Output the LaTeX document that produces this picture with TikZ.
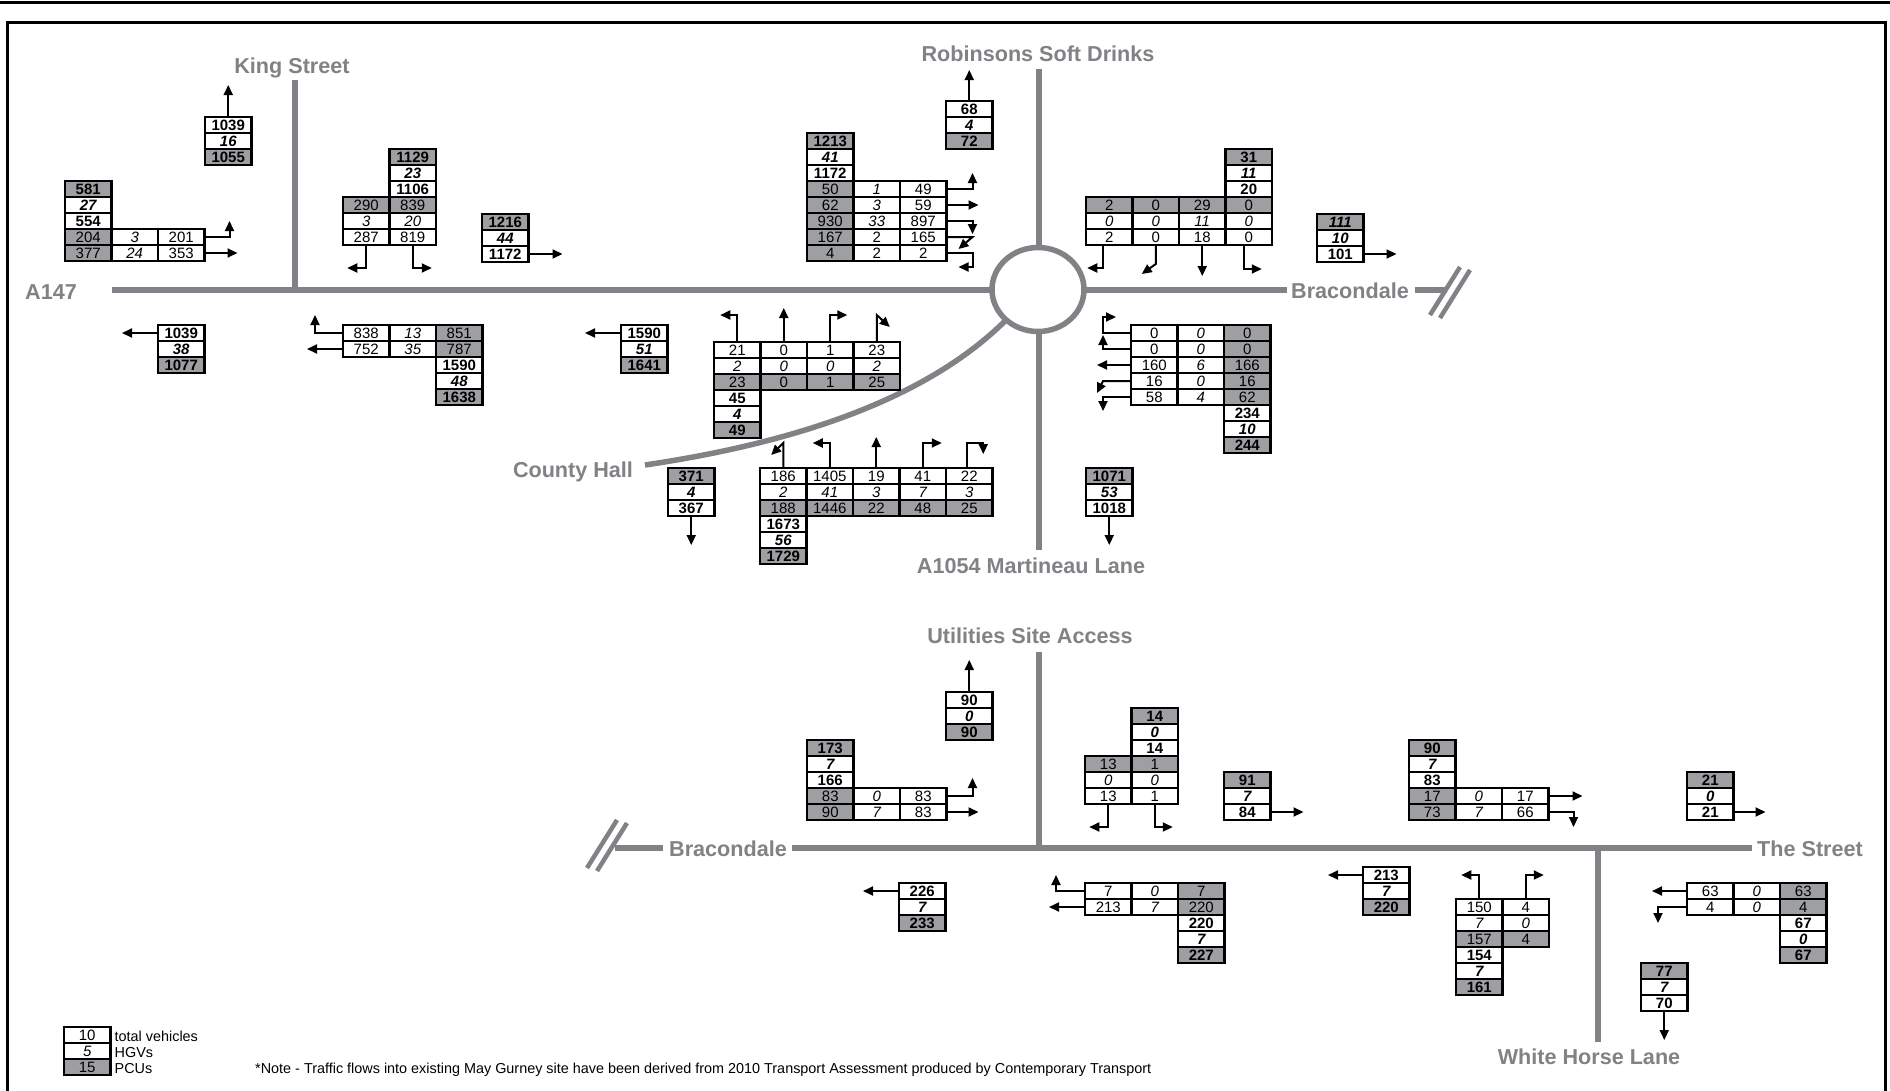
\documentclass[tikz,border=0pt]{standalone}
\usepackage{fontspec}
\setmainfont{Liberation Sans}
\usetikzlibrary{arrows.meta}
\definecolor{roadgray}{RGB}{128,130,133}
\definecolor{cellgray}{RGB}{158,159,162}
\newcommand\cellfont{\fontsize{15}{15}\selectfont}
\def\mycw{46.5}
\def\myrh{16}
\newcommand\tcell[4]{\node[cell,#3] (\curtab-#1-#2) at ({(#1+0.5)*\mycw},{(#2+0.5)*\myrh}) {#4};}
\tikzset{
  cell/.style={draw=black, line width=2.2pt, minimum width=46.5pt, minimum height=16pt,
    inner sep=0pt, outer sep=0pt, font=\cellfont, text height=10.7pt, text depth=0pt},
  cn/.style={},
  ci/.style={font=\cellfont\itshape},
  cg/.style={fill=cellgray},
  cb/.style={font=\cellfont\bfseries},
  cbi/.style={font=\cellfont\bfseries\itshape},
  cbg/.style={fill=cellgray, font=\cellfont\bfseries},
  cbig/.style={fill=cellgray, font=\cellfont\bfseries\itshape},
  arr/.style={draw=black, line width=2pt, -{Triangle[length=10pt,width=9pt]}},
  road/.style={draw=roadgray, line width=5.5pt},
  slash/.style={draw=roadgray, line width=4.5pt},
  rlab/.style={text=roadgray, font=\fontsize{21.6}{21.6}\selectfont\bfseries, inner sep=0pt,
    text height=15.5pt, text depth=0pt},
  smalltext/.style={font=\fontsize{14.4}{14.4}\selectfont, inner sep=0pt}
}
\begin{document}
\begin{tikzpicture}[x=1pt,y=-1pt]
\useasboundingbox (0,0) rectangle (1890,1090);
\fill[white] (0,0) rectangle (1890,1090);
% frame
\draw[line width=3pt] (0,2) -- (1890,2);
\draw[line width=3pt] (7.5,1093) -- (7.5,22) -- (1885.5,22) -- (1885.5,1093);

% ---------- upper junctions: roads ----------
\draw[road] (112,290) -- (992,290);
\draw[road] (295,80) -- (295,290);
\draw[road] (1038,289.5) ellipse [x radius=46, y radius=42];
\draw[road] (1039,69) -- (1039,247.5);
\draw[road] (1039,331.5) -- (1039,550);
\draw[road] (1084,290) -- (1287,290);
\draw[road] (1415,290) -- (1447,290);
\draw[slash] (1430,315) -- (1460,267);
\draw[slash] (1440,318) -- (1470,270);
\draw[road] (645,465) .. controls (780,445) and (920,405) .. (1005,321);

\node[rlab] (lking) at (292,66) {King Street};
\node[rlab] (la147) at (51,292) {A147};
\node[rlab] (lrob) at (1038,54) {Robinsons Soft Drinks};
\node[rlab] (lbrac1) at (1350,291) {Bracondale};
\node[rlab] (lcounty) at (573,470) {County Hall};
\node[rlab] (lmart) at (1031,566) {A1054 Martineau Lane};

% ---------- lower junctions: roads ----------
\draw[road] (615,848) -- (663,848);
\draw[road] (792,848) -- (1752,848);
\draw[slash] (587,868) -- (617,820);
\draw[slash] (597,871) -- (627,823);
\draw[road] (1039,652) -- (1039,848);
\draw[road] (1598,848) -- (1598,1042);

\node[rlab] (lutil) at (1030,636) {Utilities Site Access};
\node[rlab] (lbrac2) at (728,849) {Bracondale};
\node[rlab] (lstreet) at (1810,849) {The Street};
\node[rlab] (lwhite) at (1589,1057) {White Horse Lane};

% ---------- tables ----------
\begin{scope}[shift={(205,117)}]\def\curtab{A}
\tcell00{cb}{1039}\tcell01{cbi}{16}\tcell02{cbg}{1055}
\end{scope}
\draw[arr] (A-0-0.north) -- ++(0,-32);

\begin{scope}[shift={(65,181)}]\def\curtab{B}
\tcell00{cbg}{581}\tcell01{cbi}{27}\tcell02{cb}{554}
\tcell03{cg}{204}\tcell13{ci}{3}\tcell23{cn}{201}
\tcell04{cg}{377}\tcell14{ci}{24}\tcell24{cn}{353}
\end{scope}
\draw[arr] (B-2-3.east) -- ++(25,0) -- ++(0,-16);
\draw[arr] (B-2-4.east) -- ++(33,0);

\begin{scope}[shift={(343,149)}]\def\curtab{C}
\tcell10{cbg}{1129}\tcell11{cbi}{23}\tcell12{cb}{1106}
\tcell03{cg}{290}\tcell13{cg}{839}
\tcell04{ci}{3}\tcell14{ci}{20}
\tcell05{cn}{287}\tcell15{cn}{819}
\end{scope}
\draw[arr] (C-0-5.south) -- ++(0,23) -- ++(-19,0);
\draw[arr] (C-1-5.south) -- ++(0,23) -- ++(19,0);

\begin{scope}[shift={(482,214)}]\def\curtab{D}
\tcell00{cbg}{1216}\tcell01{cbi}{44}\tcell02{cb}{1172}
\end{scope}
\draw[arr] (D-0-2.east) -- ++(34,0);

\begin{scope}[shift={(807,133)}]\def\curtab{E}
\tcell00{cbg}{1213}\tcell01{cbi}{41}\tcell02{cb}{1172}
\tcell03{cg}{50}\tcell13{ci}{1}\tcell23{cn}{49}
\tcell04{cg}{62}\tcell14{ci}{3}\tcell24{cn}{59}
\tcell05{cg}{930}\tcell15{ci}{33}\tcell25{cn}{897}
\tcell06{cg}{167}\tcell16{cn}{2}\tcell26{cn}{165}
\tcell07{cg}{4}\tcell17{cn}{2}\tcell27{cn}{2}
\end{scope}
\draw[arr] (E-2-3.east) -- ++(26,0) -- ++(0,-16);
\draw[arr] (E-2-4.east) -- ++(32,0);
\draw[arr] (E-2-5.east) -- ++(26,0) -- ++(0,13);
\draw[arr] (E-2-6.east) -- ++(26,0) -- ++(-14,12);
\draw[arr] (E-2-7.east) -- ++(26,0) -- ++(0,14) -- ++(-14,0);

\begin{scope}[shift={(946,101)}]\def\curtab{F}
\tcell00{cb}{68}\tcell01{cbi}{4}\tcell02{cbg}{72}
\end{scope}
\draw[arr] (F-0-0.north) -- ++(0,-31);

\begin{scope}[shift={(1086,149)}]\def\curtab{G}
\tcell30{cbg}{31}\tcell31{cbi}{11}\tcell32{cb}{20}
\tcell03{cg}{2}\tcell13{cg}{0}\tcell23{cg}{29}\tcell33{cg}{0}
\tcell04{ci}{0}\tcell14{ci}{0}\tcell24{ci}{11}\tcell34{ci}{0}
\tcell05{cn}{2}\tcell15{cn}{0}\tcell25{cn}{18}\tcell35{cn}{0}
\end{scope}
\draw[arr] ([xshift=-6pt]G-0-5.south) -- ++(0,23) -- ++(-16,0);
\draw[arr] (G-1-5.south) -- ++(0,19) -- ++(-14,10);
\draw[arr] (G-2-5.south) -- ++(0,31);
\draw[arr] ([xshift=-5pt]G-3-5.south) -- ++(0,24) -- ++(18,0);

\begin{scope}[shift={(1317,214)}]\def\curtab{H}
\tcell00{cbig}{111}\tcell01{cbi}{10}\tcell02{cb}{101}
\end{scope}
\draw[arr] (H-0-2.east) -- ++(33,0);

\begin{scope}[shift={(158,325)}]\def\curtab{I}
\tcell00{cb}{1039}\tcell01{cbi}{38}\tcell02{cbg}{1077}
\end{scope}
\draw[arr] (I-0-0.west) -- ++(-36,0);

\begin{scope}[shift={(343,325)}]\def\curtab{J}
\tcell00{cn}{838}\tcell10{ci}{13}\tcell20{cg}{851}
\tcell01{cn}{752}\tcell11{ci}{35}\tcell21{cg}{787}
\tcell22{cb}{1590}\tcell23{cbi}{48}\tcell24{cbg}{1638}
\end{scope}
\draw[arr] (J-0-0.west) -- ++(-28,0) -- ++(0,-18);
\draw[arr] (J-0-1.west) -- ++(-36,0);

\begin{scope}[shift={(621,325)}]\def\curtab{K}
\tcell00{cb}{1590}\tcell01{cbi}{51}\tcell02{cbg}{1641}
\end{scope}
\draw[arr] (K-0-0.west) -- ++(-36,0);

\begin{scope}[shift={(714,342)}]\def\curtab{L}
\tcell00{cn}{21}\tcell10{cn}{0}\tcell20{cn}{1}\tcell30{cn}{23}
\tcell01{ci}{2}\tcell11{ci}{0}\tcell21{ci}{0}\tcell31{ci}{2}
\tcell02{cg}{23}\tcell12{cg}{0}\tcell22{cg}{1}\tcell32{cg}{25}
\tcell03{cb}{45}\tcell04{cbi}{4}\tcell05{cbg}{49}
\end{scope}
\draw[arr] (L-0-0.north) -- ++(0,-27) -- ++(-17,0);
\draw[arr] (L-1-0.north) -- ++(0,-34);
\draw[arr] (L-2-0.north) -- ++(0,-27) -- ++(17,0);
\draw[arr] (L-3-0.north) -- ++(0,-27) -- ++(13,12);

\begin{scope}[shift={(668,468)}]\def\curtab{M}
\tcell00{cbg}{371}\tcell01{cbi}{4}\tcell02{cb}{367}
\end{scope}
\draw[arr] (M-0-2.south) -- ++(0,29);

\begin{scope}[shift={(760,468)}]\def\curtab{N}
\tcell00{cn}{186}\tcell10{cn}{1405}\tcell20{cn}{19}\tcell30{cn}{41}\tcell40{cn}{22}
\tcell01{ci}{2}\tcell11{ci}{41}\tcell21{ci}{3}\tcell31{ci}{7}\tcell41{ci}{3}
\tcell02{cg}{188}\tcell12{cg}{1446}\tcell22{cg}{22}\tcell32{cg}{48}\tcell42{cg}{25}
\tcell03{cb}{1673}\tcell04{cbi}{56}\tcell05{cbg}{1729}
\end{scope}
\draw[arr] (N-0-0.north) -- ++(0,-25) -- ++(-12,12);
\draw[arr] (N-1-0.north) -- ++(0,-25) -- ++(-17,0);
\draw[arr] (N-2-0.north) -- ++(0,-31);
\draw[arr] (N-3-0.north) -- ++(0,-25) -- ++(19,0);
\draw[arr] ([xshift=-2pt]N-4-0.north) -- ++(0,-25) -- ++(16,0) -- ++(0,11);

\begin{scope}[shift={(1086,468)}]\def\curtab{O}
\tcell00{cbg}{1071}\tcell01{cbi}{53}\tcell02{cb}{1018}
\end{scope}
\draw[arr] (O-0-2.south) -- ++(0,29);

\begin{scope}[shift={(1131,325)}]\def\curtab{P}
\tcell00{cn}{0}\tcell10{ci}{0}\tcell20{cg}{0}
\tcell01{cn}{0}\tcell11{ci}{0}\tcell21{cg}{0}
\tcell02{cn}{160}\tcell12{ci}{6}\tcell22{cg}{166}
\tcell03{cn}{16}\tcell13{ci}{0}\tcell23{cg}{16}
\tcell04{cn}{58}\tcell14{ci}{4}\tcell24{cg}{62}
\tcell25{cb}{234}\tcell26{cbi}{10}\tcell27{cbg}{244}
\end{scope}
\draw[arr] (P-0-0.west) -- ++(-28,0) -- ++(0,-16) -- ++(13,0);
\draw[arr] (P-0-1.west) -- ++(-28,0) -- ++(0,-14);
\draw[arr] (P-0-2.west) -- ++(-34,0);
\draw[arr] (P-0-3.west) -- ++(-28,0) -- ++(-6,12);
\draw[arr] (P-0-4.west) -- ++(-28,0) -- ++(0,14);

% ---------- lower tables ----------
\begin{scope}[shift={(946,692)}]\def\curtab{Q}
\tcell00{cb}{90}\tcell01{cbi}{0}\tcell02{cbg}{90}
\end{scope}
\draw[arr] (Q-0-0.north) -- ++(0,-32);

\begin{scope}[shift={(807,740)}]\def\curtab{R}
\tcell00{cbg}{173}\tcell01{cbi}{7}\tcell02{cb}{166}
\tcell03{cg}{83}\tcell13{ci}{0}\tcell23{cn}{83}
\tcell04{cg}{90}\tcell14{ci}{7}\tcell24{cn}{83}
\end{scope}
\draw[arr] (R-2-3.east) -- ++(26,0) -- ++(0,-18);
\draw[arr] (R-2-4.east) -- ++(32,0);

\begin{scope}[shift={(899,883)}]\def\curtab{S}
\tcell00{cb}{226}\tcell01{cbi}{7}\tcell02{cbg}{233}
\end{scope}
\draw[arr] (S-0-0.west) -- ++(-36,0);

\begin{scope}[shift={(1085,708)}]\def\curtab{T}
\tcell10{cbg}{14}\tcell11{cbi}{0}\tcell12{cb}{14}
\tcell03{cg}{13}\tcell13{cg}{1}
\tcell04{ci}{0}\tcell14{ci}{0}
\tcell05{cn}{13}\tcell15{cn}{1}
\end{scope}
\draw[arr] (T-0-5.south) -- ++(0,23) -- ++(-19,0);
\draw[arr] (T-1-5.south) -- ++(0,23) -- ++(18,0);

\begin{scope}[shift={(1224,772)}]\def\curtab{U}
\tcell00{cbg}{91}\tcell01{cbi}{7}\tcell02{cb}{84}
\end{scope}
\draw[arr] (U-0-2.east) -- ++(33,0);

\begin{scope}[shift={(1409,740)}]\def\curtab{V}
\tcell00{cbg}{90}\tcell01{cbi}{7}\tcell02{cb}{83}
\tcell03{cg}{17}\tcell13{ci}{0}\tcell23{cn}{17}
\tcell04{cg}{73}\tcell14{ci}{7}\tcell24{cn}{66}
\end{scope}
\draw[arr] (V-2-3.east) -- ++(34,0);
\draw[arr] (V-2-4.east) -- ++(25,0) -- ++(0,15);

\begin{scope}[shift={(1687,772)}]\def\curtab{W}
\tcell00{cbg}{21}\tcell01{cbi}{0}\tcell02{cb}{21}
\end{scope}
\draw[arr] (W-0-2.east) -- ++(32,0);

\begin{scope}[shift={(1085,883)}]\def\curtab{X}
\tcell00{cn}{7}\tcell10{ci}{0}\tcell20{cg}{7}
\tcell01{cn}{213}\tcell11{ci}{7}\tcell21{cg}{220}
\tcell22{cb}{220}\tcell23{cbi}{7}\tcell24{cbg}{227}
\end{scope}
\draw[arr] (X-0-0.west) -- ++(-29,0) -- ++(0,-16);
\draw[arr] (X-0-1.west) -- ++(-36,0);

\begin{scope}[shift={(1363,867)}]\def\curtab{Y}
\tcell00{cb}{213}\tcell01{cbi}{7}\tcell02{cbg}{220}
\end{scope}
\draw[arr] (Y-0-0.west) -- ++(-35,0);

\begin{scope}[shift={(1456,899)}]\def\curtab{Z}
\tcell00{cn}{150}\tcell10{cn}{4}
\tcell01{ci}{7}\tcell11{ci}{0}
\tcell02{cg}{157}\tcell12{cg}{4}
\tcell03{cb}{154}\tcell04{cbi}{7}\tcell05{cbg}{161}
\end{scope}
\draw[arr] (Z-0-0.north) -- ++(0,-24) -- ++(-18,0);
\draw[arr] (Z-1-0.north) -- ++(0,-24) -- ++(18,0);

\begin{scope}[shift={(1687,883)}]\def\curtab{AA}
\tcell00{cn}{63}\tcell10{ci}{0}\tcell20{cg}{63}
\tcell01{cn}{4}\tcell11{ci}{0}\tcell21{cg}{4}
\tcell22{cb}{67}\tcell23{cbi}{0}\tcell24{cbg}{67}
\end{scope}
\draw[arr] (AA-0-0.west) -- ++(-35,0);
\draw[arr] (AA-0-1.west) -- ++(-29,0) -- ++(0,16);

\begin{scope}[shift={(1641,963)}]\def\curtab{AB}
\tcell00{cbg}{77}\tcell01{cbi}{7}\tcell02{cb}{70}
\end{scope}
\draw[arr] (AB-0-2.south) -- ++(0,29);

% ---------- legend and note ----------
\begin{scope}[shift={(64,1027)}]\def\curtab{LG}
\tcell00{cn}{10}\tcell01{ci}{5}\tcell02{cg}{15}
\end{scope}
\node[smalltext, anchor=base west] (lgt1) at (114.5,1041) {total vehicles};
\node[smalltext, anchor=base west] (lgt2) at (114.5,1057) {HGVs};
\node[smalltext, anchor=base west] (lgt3) at (114.5,1073) {PCUs};
\node[smalltext, anchor=base west] (note) at (255,1073) {*Note - Traffic flows into existing May Gurney site have been derived from 2010 Transport Assessment produced by Contemporary Transport};
\end{tikzpicture}
\end{document}
